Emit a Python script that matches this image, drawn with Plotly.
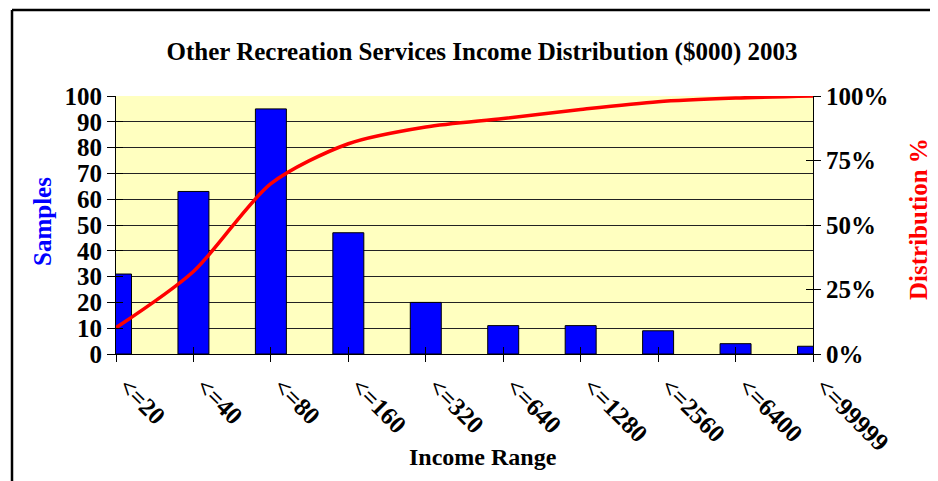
import plotly.graph_objects as go

# data
income_range = ["<=20", "<=40", "<=80", "<=160", "<=320", "<=640",
                "<=1280", "<=2560", "<=6400", "<=99999"]
samples = [31, 63, 95, 47, 20, 11, 11, 9, 4, 3]
distribution = [10.2, 32, 66, 81.5, 88, 91.3, 94.8, 97.8, 99.2, 100]
pct_ticks = [0, 25, 50, 75, 100]

FONT = "Liberation Serif"
# page body has an 8px margin, so the figure is a bit smaller than the window
W, H = 930, 473
L, R, T, B = 108, 125, 88, 127
PW, PH = W - L - R, H - T - B


def px_x(x):  # page pixel -> paper x
    return (x - 8 - L) / PW


def px_y(y):  # page pixel -> paper y
    return (H - B - (y - 8)) / PH


fig = go.Figure()
fig.add_trace(go.Bar(
    x=income_range, y=samples, width=0.4,
    marker=dict(color="#0000FF", line=dict(color="black", width=1)),
    name="Samples",
))
fig.add_trace(go.Scatter(
    x=income_range, y=distribution, yaxis="y2", mode="lines",
    line=dict(color="#FF0000", width=3.5, shape="spline", smoothing=0.8),
    name="Distribution %",
))
# empty traces so the overlay axes (inner half of the crossing ticks) are drawn
fig.add_trace(go.Scatter(x=[None], y=[None], xaxis="x2", yaxis="y3",
                         showlegend=False, hoverinfo="skip"))
fig.add_trace(go.Scatter(x=[None], y=[None], xaxis="x2", yaxis="y4",
                         showlegend=False, hoverinfo="skip"))

tickfont = dict(size=25, family=FONT, weight="bold", color="black")
fig.update_layout(
    width=W, height=H,
    margin=dict(l=L, r=R, t=T, b=B),
    paper_bgcolor="white",
    plot_bgcolor="#FFFFC0",
    showlegend=False,
    font=dict(family=FONT, color="black"),
    title=dict(
        text="<b>Other Recreation Services Income Distribution ($000) 2003</b>",
        x=(482 - 8) / W, xanchor="center", y=1 - (51 - 8) / H, yanchor="middle",
        font=dict(size=25, family=FONT, color="black"),
    ),
    xaxis=dict(
        type="category", range=[0, 9],
        showline=True, linecolor="black", linewidth=1,
        ticks="outside", ticklen=7, tickcolor="black",
        tickangle=45, showgrid=False, ticklabelshift=10,
        tickfont=dict(size=25, family=FONT, weight="bold"),
    ),
    xaxis2=dict(
        overlaying="x", anchor="y", side="bottom", range=[0, 9], dtick=1,
        ticks="inside", ticklen=7, tickcolor="black",
        showticklabels=False, showgrid=False, zeroline=False, showline=False,
    ),
    yaxis=dict(
        range=[0, 100], dtick=10,
        showline=True, linecolor="black", linewidth=1,
        ticks="outside", ticklen=8, tickcolor="black",
        showgrid=True, gridcolor="#222222", gridwidth=1,
        zeroline=False, tickfont=tickfont,
    ),
    yaxis2=dict(
        range=[0, 100], overlaying="y", side="right",
        tickvals=pct_ticks, ticktext=[f"{v}%" for v in pct_ticks],
        showline=True, linecolor="black", linewidth=1,
        ticks="outside", ticklen=7, tickcolor="black",
        showgrid=False, zeroline=False, tickfont=tickfont,
    ),
    yaxis3=dict(
        range=[0, 100], dtick=10, overlaying="y", anchor="x2", side="left",
        ticks="inside", ticklen=7, tickcolor="black",
        showticklabels=False, showgrid=False, zeroline=False, showline=False,
    ),
    yaxis4=dict(
        range=[0, 100], tickvals=pct_ticks, overlaying="y", anchor="x2",
        side="right",
        ticks="inside", ticklen=7, tickcolor="black",
        showticklabels=False, showgrid=False, zeroline=False, showline=False,
    ),
)

# axis titles
fig.add_annotation(text="<b>Samples</b>", xref="paper", yref="paper",
                   x=px_x(42), y=px_y(222), textangle=-90,
                   xanchor="center", yanchor="middle",
                   showarrow=False, font=dict(size=25, color="#0000FF", family=FONT))
fig.add_annotation(text="<b>Distribution %</b>", xref="paper", yref="paper",
                   x=px_x(918), y=px_y(219), textangle=-90,
                   xanchor="center", yanchor="middle",
                   showarrow=False, font=dict(size=25, color="#FF0000", family=FONT))
fig.add_annotation(text="<b>Income Range</b>", xref="paper", yref="paper",
                   x=px_x(483), y=px_y(457),
                   xanchor="center", yanchor="middle",
                   showarrow=False, font=dict(size=24, color="black", family=FONT))

# outer chart frame (top and left edges visible in the crop)
x0, y0 = px_x(12), px_y(10)
fig.add_shape(type="line", xref="paper", yref="paper",
              x0=x0, y0=y0, x1=px_x(945), y1=y0,
              line=dict(color="black", width=2.5))
fig.add_shape(type="line", xref="paper", yref="paper",
              x0=x0, y0=y0, x1=x0, y1=px_y(490),
              line=dict(color="black", width=2.5))

fig.write_html("out.html")
